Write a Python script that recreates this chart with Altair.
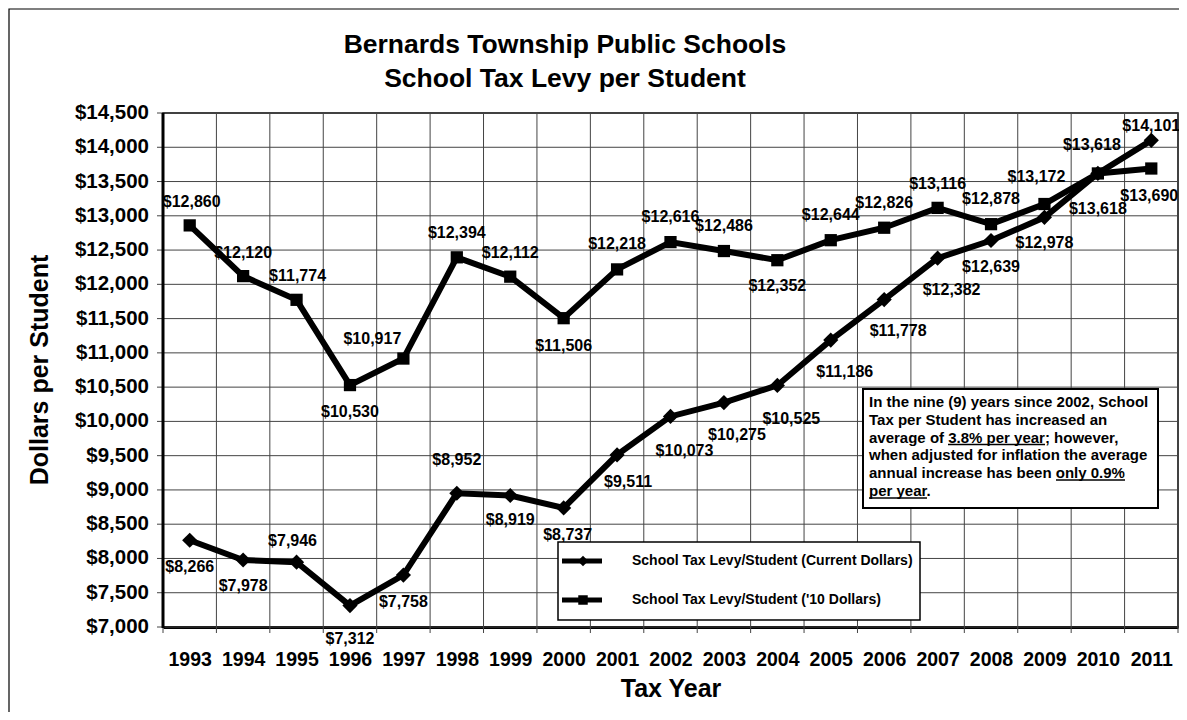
import altair as alt
import pandas as pd

# ---------------- data ----------------
years = list(range(1993, 2012))
current_dollars = [8266, 7978, 7946, 7312, 7758, 8952, 8919, 8737, 9511, 10073,
                   10275, 10525, 11186, 11778, 12382, 12639, 12978, 13618, 14101]
dollars_2010 = [12860, 12120, 11774, 10530, 10917, 12394, 12112, 11506, 12218, 12616,
                12486, 12352, 12644, 12826, 13116, 12878, 13172, 13618, 13690]
y_ticks = list(range(7000, 14501, 500))
series_names = ["School Tax Levy/Student (Current Dollars)",
                "School Tax Levy/Student ('10 Dollars)"]
title_lines = ["Bernards Township Public Schools", "School Tax Levy per Student"]
y_title = "Dollars per Student"
x_title = "Tax Year"
note_lines = ["In the nine (9) years since 2002, School",
              "Tax per Student has increased an",
              "average of 3.8% per year; however,",
              "when adjusted for inflation the average",
              "annual increase has been only 0.9%",
              "per year."]

# label placement (pixel offsets from each point)
cur_dx = [0, 0, -4, 0, 0, 0, 0, 4, 11, 14, 13, 14, 14, 14, 14, 0, 0, 0, 0]
cur_dy = [27, 26, -21, 33, 27, -33, 25, 27, 27, 35, 32, 34, 32, 31, 32, 26, 26, 36, -14]
con_dx = [2, 0, 1, 0, -31, 0, 0, 0, 0, 0, 0, 0, 0, 0, 0, 0, -8, -6, -2]
con_dy = [-23, -23, -24, 27, -20, -24, -24, 28, -25, -25, -25, 26, -25, -25, -24, -25, -27, -28, 27]

FONT = "Liberation Sans"
W, H = 1015, 514

cur_df = pd.DataFrame({"year": years, "value": current_dollars,
                       "dx": cur_dx, "dy": cur_dy})
con_df = pd.DataFrame({"year": years, "value": dollars_2010,
                       "dx": con_dx, "dy": con_dy})
for d in (cur_df, con_df):
    d["label"] = d["value"].map(lambda v: "${:,}".format(v))

ytick_df = pd.DataFrame({"t": y_ticks})
ytick_df["label"] = ytick_df["t"].map(lambda v: "${:,}".format(v))
bounds_df = pd.DataFrame({"b": [y - 0.5 for y in years] + [years[-1] + 0.5]})
one = pd.DataFrame({"k": [0]})

xscale = alt.Scale(domain=[years[0] - 0.5, years[-1] + 0.5], nice=False, zero=False)
yscale = alt.Scale(domain=[7000, 14500], nice=False, zero=False)

x_axis = alt.Axis(values=years, format="d", grid=False, ticks=False,
                  labelFont=FONT, labelFontSize=19.5, labelFontWeight="bold",
                  labelColor="black", labelPadding=23, labelFlush=False,
                  labelOverlap=False,
                  domainColor="black", domainWidth=3,
                  title=x_title, titleFont=FONT, titleFontSize=25,
                  titleFontWeight="bold", titleColor="black", titlePadding=8)

# vertical grid lines at year boundaries (extend below as tick marks)
vgrid = alt.Chart(bounds_df).mark_rule(color="#444444", strokeWidth=1).encode(
    x=alt.X("b:Q", scale=xscale, axis=x_axis),
    y=alt.value(0), y2=alt.value(H + 6))

# horizontal grid lines + ticks, y tick labels, y axis line and title
hgrid = alt.Chart(ytick_df).mark_rule(color="#444444", strokeWidth=1).encode(
    y=alt.Y("t:Q", scale=yscale, axis=None),
    x=alt.value(-6), x2=alt.value(W))
ylabels = alt.Chart(ytick_df).mark_text(font=FONT, fontSize=20.5, fontWeight="bold",
                                        color="black", align="right",
                                        baseline="middle").encode(
    y=alt.Y("t:Q", scale=yscale, axis=None),
    x=alt.value(-14), text="label:N")
ydomain = alt.Chart(one).mark_rule(color="black", strokeWidth=3).encode(
    x=alt.value(0), y=alt.value(0), y2=alt.value(H + 1))
ytitle = alt.Chart(one).mark_text(font=FONT, fontSize=25, fontWeight="bold",
                                  color="black", align="center", baseline="middle",
                                  angle=270).encode(
    x=alt.value(-123), y=alt.value(257), text=alt.value(y_title))


def series_layers(df, shape, size):
    line = alt.Chart(df).mark_line(color="black", strokeWidth=6).encode(
        x=alt.X("year:Q", scale=xscale, axis=x_axis),
        y=alt.Y("value:Q", scale=yscale, axis=None))
    pts = alt.Chart(df).mark_point(shape=shape, size=size, filled=True,
                                   color="black", opacity=1).encode(
        x=alt.X("year:Q", scale=xscale, axis=x_axis),
        y=alt.Y("value:Q", scale=yscale, axis=None))
    out = [line, pts]
    pairs = sorted(set(zip(df["dx"], df["dy"])))
    for dx, dy in pairs:
        out.append(
            alt.Chart(df).transform_filter(
                f"datum.dx == {dx} && datum.dy == {dy}"
            ).mark_text(font=FONT, fontSize=16, fontWeight="bold", color="black",
                        align="center", baseline="middle", dx=int(dx), dy=int(dy)
            ).encode(
                x=alt.X("year:Q", scale=xscale, axis=x_axis),
                y=alt.Y("value:Q", scale=yscale, axis=None),
                text="label:N"))
    return out


# outer frame
frame = alt.Chart(one).mark_rect(fill=None, stroke="black", strokeWidth=1.2).encode(
    x=alt.value(-154), x2=alt.value(W + 40),
    y=alt.value(-104), y2=alt.value(H + 200))

# title
title1 = alt.Chart(one).mark_text(font=FONT, fontSize=26.5, fontWeight="bold",
                                  color="black", align="center", baseline="middle").encode(
    x=alt.value(402), y=alt.value(-68), text=alt.value(title_lines[0]))
title2 = alt.Chart(one).mark_text(font=FONT, fontSize=26.5, fontWeight="bold",
                                  color="black", align="center", baseline="middle").encode(
    x=alt.value(402), y=alt.value(-34), text=alt.value(title_lines[1]))

# legend
leg_box = alt.Chart(one).mark_rect(fill="white", stroke="black", strokeWidth=1.5).encode(
    x=alt.value(395), x2=alt.value(757), y=alt.value(429), y2=alt.value(507))
leg_l1 = alt.Chart(one).mark_rule(color="black", strokeWidth=5).encode(
    x=alt.value(399), x2=alt.value(439), y=alt.value(448))
leg_l2 = alt.Chart(one).mark_rule(color="black", strokeWidth=5).encode(
    x=alt.value(399), x2=alt.value(439), y=alt.value(487))
leg_p1 = alt.Chart(one).mark_point(shape="diamond", size=110, filled=True,
                                   color="black", opacity=1).encode(
    x=alt.value(420), y=alt.value(448))
leg_p2 = alt.Chart(one).mark_point(shape="square", size=90, filled=True,
                                   color="black", opacity=1).encode(
    x=alt.value(420), y=alt.value(487))
leg_t1 = alt.Chart(one).mark_text(font=FONT, fontSize=14, fontWeight="bold",
                                  color="black", align="left", baseline="middle").encode(
    x=alt.value(469), y=alt.value(448), text=alt.value(series_names[0]))
leg_t2 = alt.Chart(one).mark_text(font=FONT, fontSize=14, fontWeight="bold",
                                  color="black", align="left", baseline="middle").encode(
    x=alt.value(469), y=alt.value(487), text=alt.value(series_names[1]))

# annotation box
note_box = alt.Chart(one).mark_rect(fill="white", stroke="black", strokeWidth=2).encode(
    x=alt.value(700), x2=alt.value(995), y=alt.value(276), y2=alt.value(395))
note_txt = alt.Chart(one).mark_text(font=FONT, fontSize=15, fontWeight="bold",
                                    color="black", align="left", baseline="alphabetic",
                                    lineHeight=17.8).encode(
    x=alt.value(706), y=alt.value(294), text=alt.value(note_lines))
ul1 = alt.Chart(one).mark_rule(color="black", strokeWidth=1.5).encode(
    x=alt.value(785), x2=alt.value(882), y=alt.value(331.5))
ul2 = alt.Chart(one).mark_rule(color="black", strokeWidth=1.5).encode(
    x=alt.value(893), x2=alt.value(962), y=alt.value(367))
ul3 = alt.Chart(one).mark_rule(color="black", strokeWidth=1.5).encode(
    x=alt.value(706), x2=alt.value(764), y=alt.value(385))

layers = ([frame, title1, title2, vgrid, hgrid, ylabels, ydomain, ytitle]
          + series_layers(con_df, "square", 150)
          + series_layers(cur_df, "diamond", 230)
          + [leg_box, leg_l1, leg_l2, leg_p1, leg_p2, leg_t1, leg_t2,
             note_box, note_txt, ul1, ul2, ul3])

chart = alt.layer(*layers).properties(
    width=W, height=H,
    autosize=alt.AutoSizeParams(type="none"),
    padding={"left": 155, "top": 105, "right": 1, "bottom": 85},
    background="white",
).configure_view(stroke="black", strokeWidth=1.5)

chart.save("out.html", embed_options={"renderer": "svg", "actions": False})
